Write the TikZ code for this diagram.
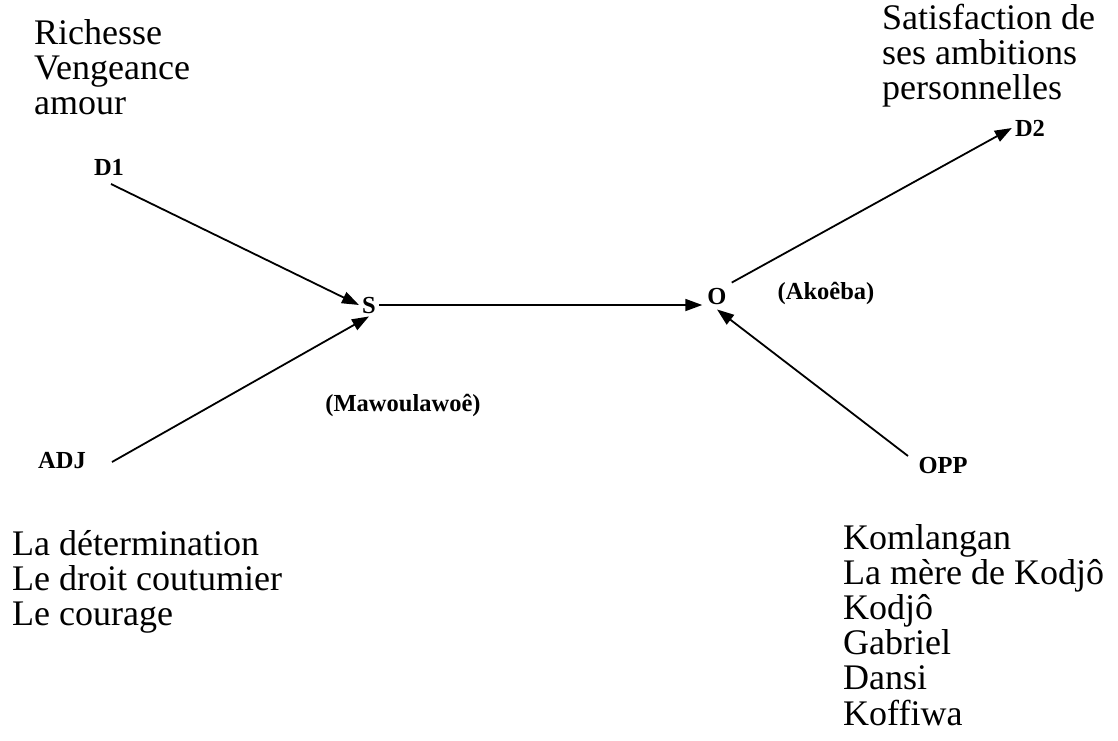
\documentclass[tikz,border=0pt]{standalone}
\usepackage{fontspec}
\setmainfont{Liberation Serif}
\usetikzlibrary{arrows.meta}
\begin{document}
\begin{tikzpicture}[x=1pt,y=-1pt,
  txt/.style={anchor=north west, inner sep=0pt, align=left,
    font=\fontsize{36}{35.2}\selectfont},
  lbl/.style={inner sep=3pt, font=\fontsize{24.5}{24.5}\selectfont\bfseries},
  arr/.style={line width=1.8pt, -{Triangle[length=17pt,width=12pt]}}]
\useasboundingbox (0,0) rectangle (1118,740);

% actant labels
\node[lbl] (d1)  at (109,167) {D1};
\node[lbl] (s)   at (369,305) {S};
\node[lbl, inner sep=5pt] (o) at (717,296) {O};
\node[lbl] (d2)  at (1030,128) {D2};
\node[lbl] (adj) at (62,461) {ADJ};
\node[lbl] (opp) at (943,465) {OPP};
\node[lbl] (maw) at (403,405) {(Mawoulawoê)};
\node[lbl] (ako) at (826,293) {(Akoêba)};

% text lists
\node[txt] (dest)  at (34,19)  {Richesse\\Vengeance\\amour};
\node[txt] (goal)  at (882,4)  {Satisfaction de\\ses ambitions\\personnelles};
\node[txt] (help)  at (12,530) {La détermination\\Le droit coutumier\\Le courage};
\node[txt] (oppl)  at (843,524) {Komlangan\\La mère de Kodjô\\Kodjô\\Gabriel\\Dansi\\Koffiwa};

% free ends of the incoming connectors
\coordinate (d1e)  at (111,184);
\coordinate (adje) at (112,462);
\coordinate (oppe) at (908,456);

\draw[arr] (d1e) -- (s.west);
\draw[arr] (adje) -- (s.south);
\draw[arr] (s.east) -- (s.east -| o.west);
\draw[arr] (o.north east) -- (d2.west);
\draw[arr] (oppe) -- (o.south);
\end{tikzpicture}
\end{document}
